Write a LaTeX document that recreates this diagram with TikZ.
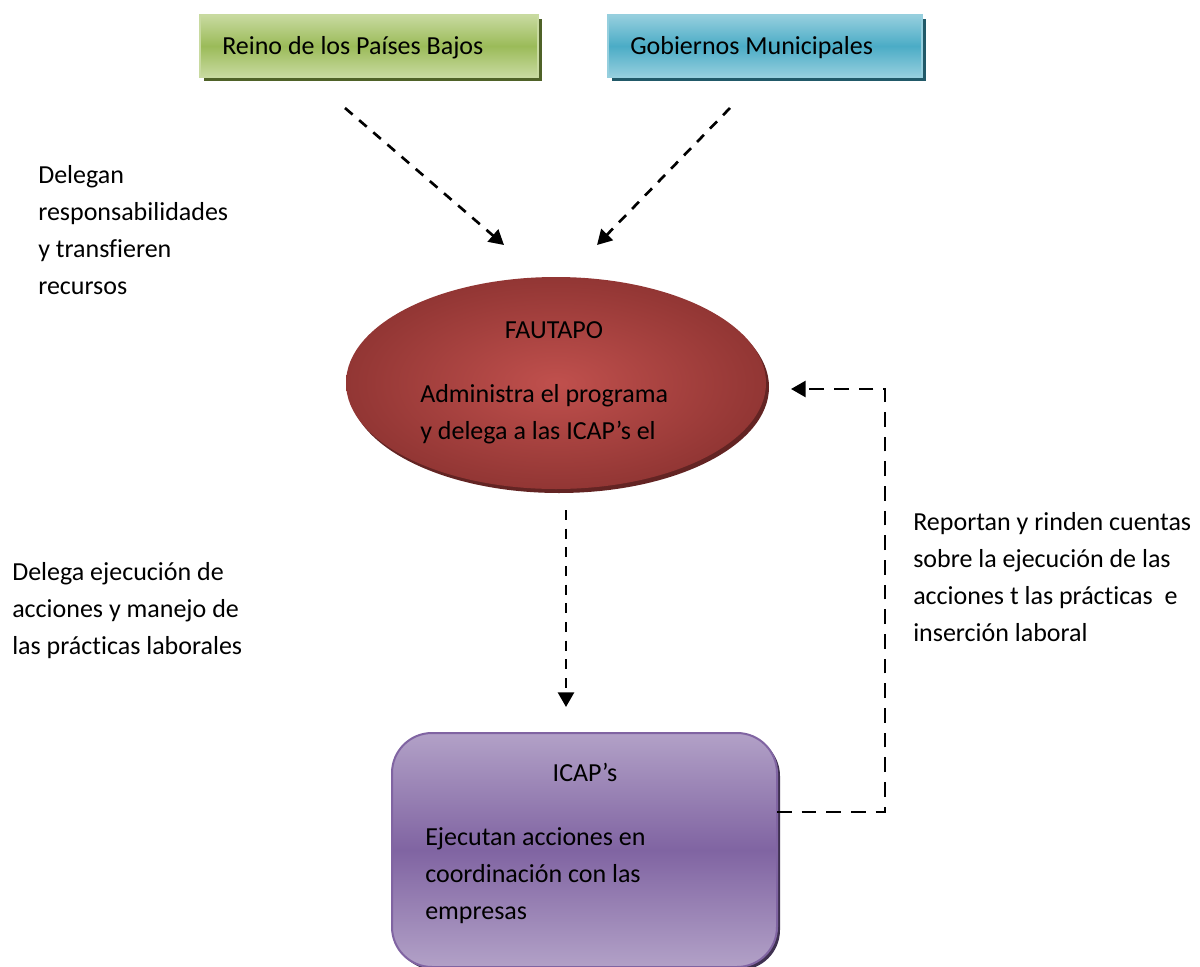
\documentclass[tikz,border=0pt]{standalone}
\usepackage{fontspec}
\setmainfont{Carlito}[Ligatures=NoCommon]
\usepackage{tikz}
\usetikzlibrary{arrows.meta, shapes.geometric, shadows}
\definecolor{verde-claro}{RGB}{200,218,160}
\definecolor{verde}{RGB}{155,187,89}
\definecolor{verde-osc}{RGB}{79,98,40}
\definecolor{azul-claro}{RGB}{150,207,222}
\definecolor{azul}{RGB}{75,172,198}
\definecolor{azul-osc}{RGB}{33,89,104}
\definecolor{rojo}{RGB}{192,80,77}
\definecolor{rojo-borde}{RGB}{146,54,52}
\definecolor{rojo-osc}{RGB}{99,36,35}
\definecolor{lila-claro}{RGB}{178,161,199}
\definecolor{lila}{RGB}{128,100,162}
\definecolor{lila-osc}{RGB}{63,49,81}

\begin{document}
\begin{tikzpicture}[x=0.75pt, y=-0.75pt,
    txt/.style={font=\fontsize{19.5}{27.75}\selectfont, inner sep=0pt, anchor=base west},
    flecha/.style={line width=2pt, dash pattern=on 7.5pt off 6.5pt,
      -{Triangle[length=11pt, width=12pt]}},
    caja/.style={rectangle, line width=1.5pt, minimum height=46.5pt, inner sep=0pt}]
  \useasboundingbox (0,0) rectangle (1200,967);

  % Cajas superiores
  \node[caja, draw=verde-claro, top color=verde-claro, bottom color=verde-claro,
        middle color=verde, minimum width=253.5pt,
        drop shadow={shadow xshift=3pt, shadow yshift=-3pt, fill=verde-osc, opacity=1}]
    (reino) at (369,46) {};
  \node[caja, draw=azul-claro, top color=azul-claro, bottom color=azul-claro,
        middle color=azul, minimum width=235.5pt,
        drop shadow={shadow xshift=3pt, shadow yshift=-3pt, fill=azul-osc, opacity=1}]
    (gob) at (765,46) {};
  \node[txt] (reino-txt) at (222,54) {Reino de los Países Bajos};
  \node[txt] (gob-txt) at (630,54) {Gobiernos Municipales};

  % FAUTAPO
  \node[ellipse, minimum width=315pt, minimum height=159pt,
        inner color=rojo, outer color=rojo-borde,
        drop shadow={shadow xshift=2.25pt, shadow yshift=-3pt, fill=rojo-osc, opacity=1}]
    (fau) at (556,383) {};
  \node[txt, anchor=base] (fau-tit) at (554,338) {FAUTAPO};
  \node[txt] (fau-l1) at (420,402) {Administra el programa};
  \node[txt] (fau-l2) at (420,439) {y delega a las ICAP’s el};

  % ICAP's
  \node[rectangle, rounded corners=30pt, draw=lila, line width=1.5pt,
        minimum width=288.75pt, minimum height=175.5pt,
        top color=lila-claro, bottom color=lila-claro, middle color=lila,
        drop shadow={shadow xshift=2.25pt, shadow yshift=-2.25pt, fill=lila-osc, opacity=1}]
    (icap) at (584.5,850) {};
  \node[txt, anchor=base] (icap-tit) at (585,781) {ICAP’s};
  \foreach \lin [count=\i] in {Ejecutan acciones en, coordinación con las, empresas}
    \node[txt] (icap-l\i) at (425,{808+37*\i}) {\lin};

  % Textos laterales
  \foreach \lin [count=\i] in {Delegan, responsabilidades, y transfieren, recursos}
    \node[txt] (deleg-\i) at (38,{146+37*\i}) {\lin};
  \foreach \lin [count=\i] in {Delega ejecución de, acciones y manejo de,
      las prácticas laborales}
    \node[txt] (ejec-\i) at (12,{543+37*\i}) {\lin};
  \foreach \lin [count=\i] in {Reportan y rinden cuentas, sobre la ejecución de las,
      acciones t las prácticas~ e, inserción laboral}
    \node[txt] (rep-\i) at (913,{493+37*\i}) {\lin};

  % Puntos de los conectores
  \coordinate (reino-sal) at (345,108);
  \coordinate (gob-sal) at (730,108);
  \coordinate (fau-izq) at (504,245);
  \coordinate (fau-der) at (597,245);
  \coordinate (fau-sal) at (566,510);
  \coordinate (icap-ent) at (566,707);
  \coordinate (icap-sal) at (777,812);
  \coordinate (esq) at (885,389);
  \coordinate (fau-ent) at (791,389);

  % Conectores
  \draw[flecha] (reino-sal) -- (fau-izq);
  \draw[flecha] (gob-sal) -- (fau-der);
  \draw[flecha] (fau-sal) -- (icap-ent);
  \draw[flecha, dash pattern=on 11pt off 7.5pt] (icap-sal) -| (esq) -- (fau-ent);
\end{tikzpicture}
\end{document}
